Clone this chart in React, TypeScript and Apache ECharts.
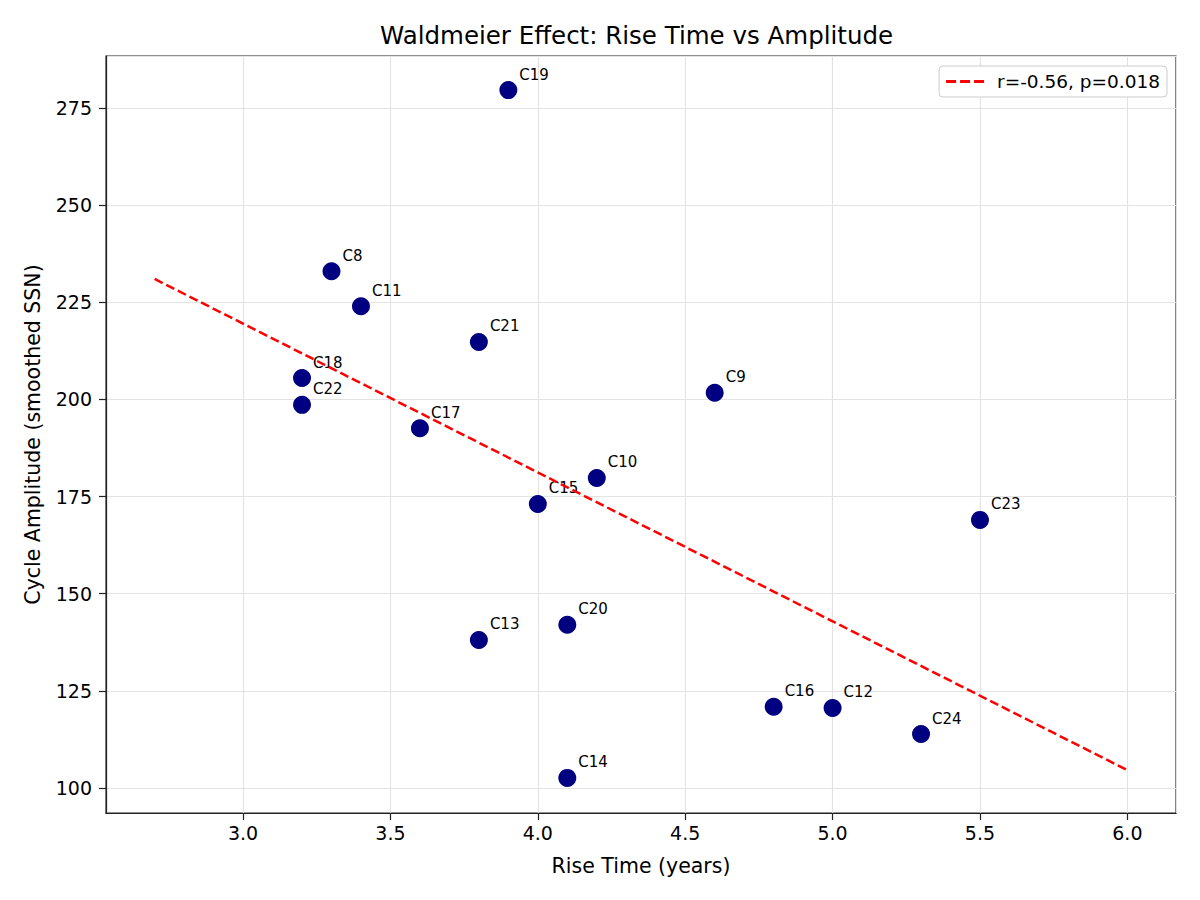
import React, { useEffect, useRef } from "react";
import * as echarts from "echarts";

const cycleNames = ["C8", "C9", "C10", "C11", "C12", "C13", "C14", "C15", "C16", "C17", "C18", "C19", "C20", "C21", "C22", "C23", "C24"];
const riseTimes = [3.3, 4.6, 4.2, 3.4, 5.0, 3.8, 4.1, 4.0, 4.8, 3.6, 3.2, 3.9, 4.1, 3.8, 3.2, 5.5, 5.3];
const amplitudes = [233.0, 201.7, 179.8, 224.0, 120.6, 138.1, 102.6, 173.1, 120.9, 192.6, 205.5, 279.6, 142.0, 214.8, 198.6, 169.0, 113.9];
const trendX = [2.7, 6.0];
const trendY = [231.0, 104.6];
const trendLabel = "r=-0.56, p=0.018";

const FONT = "DejaVu Sans";

export default function App() {
  const ref = useRef<HTMLDivElement>(null);
  useEffect(() => {
    if (!ref.current) return;
    const chart = echarts.init(ref.current, null, { renderer: "svg" });
    const points = riseTimes.map((x, i) => ({ name: cycleNames[i], value: [x, amplitudes[i]] }));
    const trend = trendX.map((x, i) => [x, trendY[i]]);
    chart.setOption({
      animation: false,
      backgroundColor: "#ffffff",
      textStyle: { fontFamily: FONT },
      title: {
        text: "Waldmeier Effect: Rise Time vs Amplitude",
        left: 380,
        top: 23,
        padding: 0,
        textStyle: { fontFamily: FONT, fontSize: 24.5, fontWeight: "normal", color: "#000" },
      },
      legend: {
        right: 33,
        top: 66,
        orient: "vertical",
        data: [{ name: trendLabel, icon: "path://M0,0h10v3H0z M14,0h10v3H14z M28,0h10v3H28z" }],
        itemWidth: 38,
        itemHeight: 3,
        itemGap: 5,
        padding: [6, 7, 6, 7],
        borderColor: "#cccccc",
        borderWidth: 1,
        borderRadius: 4,
        backgroundColor: "#ffffff",
        itemStyle: { color: "#ff0000", borderWidth: 0 },
        lineStyle: { width: 0 },
        textStyle: { fontFamily: FONT, fontSize: 18.5, color: "#000", padding: [0, 0, 0, 8] },
      },
      grid: {
        left: 106,
        right: 24,
        top: 56,
        bottom: 87,
        show: true,
        borderColor: "#222222",
        borderWidth: 1.2,
        containLabel: false,
      },
      xAxis: {
        type: "value",
        min: 2.535,
        max: 6.165,
        minInterval: 0.5,
        maxInterval: 0.5,
        name: "Rise Time (years)",
        nameLocation: "middle",
        nameGap: 42,
        nameTextStyle: { fontFamily: FONT, fontSize: 20.5, color: "#000" },
        axisLine: { show: true, lineStyle: { color: "#222222", width: 1.2 } },
        axisTick: { show: true, length: 7, lineStyle: { color: "#222222", width: 1.2 } },
        axisLabel: {
          showMinLabel: false,
          showMaxLabel: false,
          margin: 10,
          fontFamily: FONT,
          fontSize: 19,
          color: "#000",
          formatter: (v: number) => v.toFixed(1),
        },
        splitLine: { show: true, lineStyle: { color: "#e3e3e3", width: 1.2 } },
      },
      yAxis: {
        type: "value",
        min: 93.57,
        max: 288.38,
        minInterval: 25,
        maxInterval: 25,
        name: "Cycle Amplitude (smoothed SSN)",
        nameLocation: "middle",
        nameGap: 63,
        nameTextStyle: { fontFamily: FONT, fontSize: 20.5, color: "#000" },
        axisLine: { show: true, lineStyle: { color: "#222222", width: 1.2 } },
        axisTick: { show: true, length: 7, lineStyle: { color: "#222222", width: 1.2 } },
        axisLabel: {
          showMinLabel: false,
          showMaxLabel: false,
          margin: 14,
          fontFamily: FONT,
          fontSize: 19,
          color: "#000",
          formatter: (v: number) => String(Math.round(v)),
        },
        splitLine: { show: true, lineStyle: { color: "#e3e3e3", width: 1.2 } },
      },
      series: [
        {
          type: "scatter",
          name: "cycles",
          data: points,
          symbol: "circle",
          symbolSize: 18,
          itemStyle: { color: "#000080", opacity: 1 },
          z: 3,
          label: {
            show: true,
            formatter: (p: any) => p.name,
            position: [20, 1],
            align: "left",
            verticalAlign: "bottom",
            fontFamily: FONT,
            fontSize: 15,
            color: "#000",
          },
        },
        {
          type: "line",
          name: trendLabel,
          data: trend,
          symbol: "none",
          z: 4,
          lineStyle: { color: "#ff0000", width: 2.5, type: [9, 4] },
          itemStyle: { color: "#ff0000" },
        },
      ],
    });
    return () => chart.dispose();
  }, []);
  return (
    <div
      ref={ref}
      style={{ position: "fixed", left: 0, top: 0, width: 1200, height: 900 }}
    />
  );
}
